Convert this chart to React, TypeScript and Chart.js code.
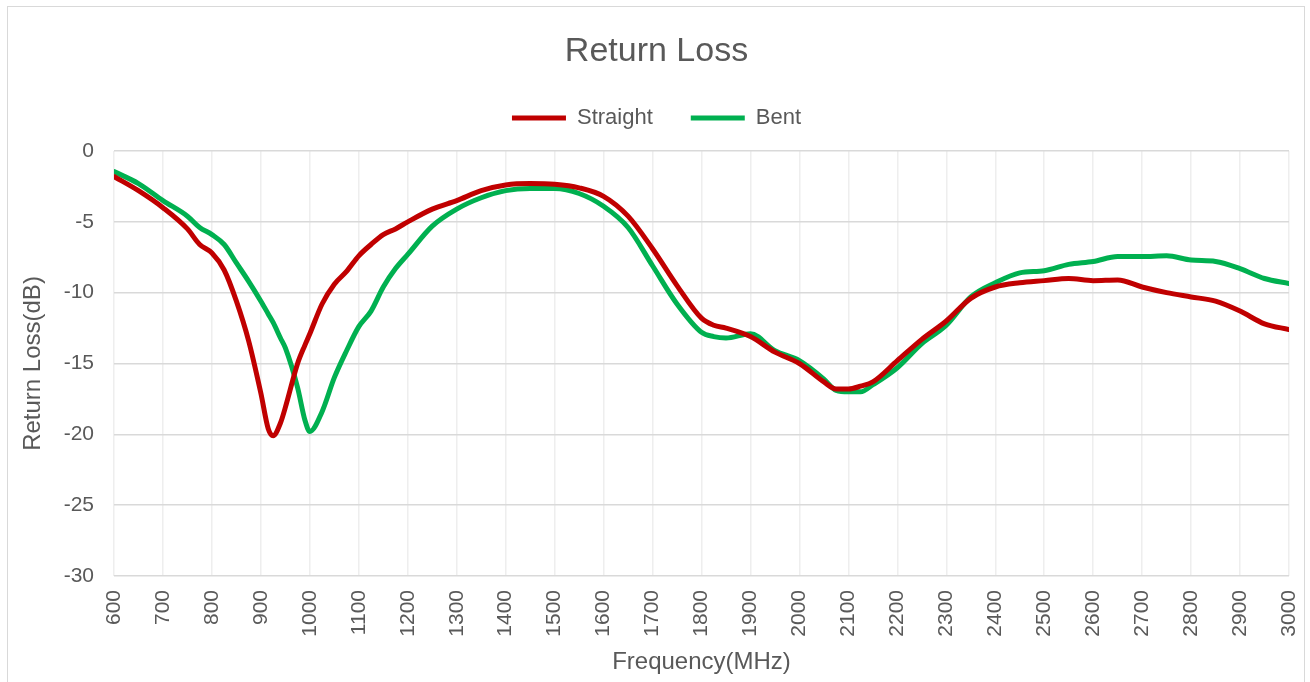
import React, { useEffect, useRef } from "react";
import { Chart, registerables } from "chart.js";

Chart.register(...registerables);

const frequencies = [600, 650, 700, 750, 775, 800, 825, 850, 875, 900, 915, 925, 940, 950, 975, 990, 1000, 1025, 1050, 1075, 1100, 1125, 1150, 1175, 1200, 1250, 1300, 1350, 1400, 1450, 1500, 1550, 1600, 1650, 1700, 1750, 1800, 1825, 1850, 1900, 1950, 2000, 2050, 2075, 2100, 2125, 2150, 2200, 2250, 2300, 2350, 2400, 2450, 2500, 2550, 2600, 2650, 2700, 2750, 2800, 2850, 2900, 2950, 3000];

const straight = [-1.8, -2.8, -4.0, -5.5, -6.6, -7.2, -8.4, -10.6, -13.4, -17.1, -19.6, -20.1, -19.2, -18.1, -15.0, -13.7, -12.9, -10.8, -9.4, -8.5, -7.4, -6.6, -5.9, -5.5, -5.0, -4.1, -3.5, -2.8, -2.4, -2.3, -2.35, -2.6, -3.2, -4.6, -6.9, -9.5, -11.8, -12.3, -12.5, -13.1, -14.2, -15.0, -16.3, -16.8, -16.8, -16.6, -16.3, -14.8, -13.3, -12.0, -10.4, -9.6, -9.3, -9.15, -9.0, -9.15, -9.1, -9.6, -10.0, -10.3, -10.6, -11.3, -12.2, -12.6];

const bent = [-1.45, -2.3, -3.5, -4.6, -5.4, -5.9, -6.6, -7.9, -9.2, -10.6, -11.5, -12.1, -13.2, -13.9, -16.7, -19.0, -19.8, -18.4, -16.0, -14.1, -12.4, -11.3, -9.6, -8.3, -7.3, -5.3, -4.1, -3.3, -2.8, -2.65, -2.65, -3.0, -3.9, -5.4, -8.1, -10.8, -12.8, -13.1, -13.2, -12.9, -14.1, -14.8, -16.1, -16.9, -17.0, -17.0, -16.5, -15.3, -13.6, -12.3, -10.3, -9.3, -8.6, -8.45, -8.0, -7.8, -7.45, -7.45, -7.4, -7.7, -7.8, -8.3, -9.0, -9.35];

const seriesNames = ["Straight", "Bent"];
const seriesColors = ["#C00000", "#00B050"];
const chartTitle = "Return Loss";
const xTitle = "Frequency(MHz)";
const yTitle = "Return Loss(dB)";

const FONT = "'Liberation Sans', Arial, sans-serif";
const TEXT = "#595959";

export default function App() {
  const ref = useRef<HTMLCanvasElement | null>(null);

  useEffect(() => {
    document.body.style.margin = "0";
    const canvas = ref.current;
    if (!canvas) return;
    const toPts = (vals: number[]) => frequencies.map((f, i) => ({ x: f, y: vals[i] }));
    const chart = new Chart(canvas, {
      type: "line",
      data: {
        datasets: [straight, bent].map((vals, i) => ({
          label: seriesNames[i],
          data: toPts(vals),
          borderColor: seriesColors[i],
          backgroundColor: seriesColors[i],
          borderWidth: 5,
          borderCapStyle: "round" as const,
          borderJoinStyle: "round" as const,
          pointRadius: 0,
          cubicInterpolationMode: "monotone" as const,
          fill: false,
        })),
      },
      options: {
        responsive: false,
        animation: false,
        devicePixelRatio: 1,
        layout: { padding: { left: 24, right: 21, top: 0, bottom: 0 } },
        plugins: {
          tooltip: { enabled: false },
          title: {
            display: true,
            text: chartTitle,
            color: TEXT,
            font: { family: FONT, size: 34, weight: "normal", lineHeight: 1 },
            padding: { top: 35, bottom: 0 },
          },
          legend: {
            display: true,
            position: "top",
            labels: {
              usePointStyle: true,
              pointStyle: "line",
              pointStyleWidth: 54,
              color: TEXT,
              padding: 38,
              font: { family: FONT, size: 22 },
            },
          },
        },
        scales: {
          x: {
            type: "linear",
            position: "bottom",
            min: 600,
            max: 3000,
            afterFit: (s: any) => {
              s.height = 106;
              s.paddingLeft = 0;
              s.paddingRight = 0;
            },
            ticks: {
              stepSize: 100,
              autoSkip: false,
              minRotation: 90,
              maxRotation: 90,
              padding: 14,
              color: TEXT,
              font: { family: FONT, size: 21 },
              callback: (v: any) => String(v),
            },
            grid: { color: "#eeeeee", lineWidth: 1.5, drawTicks: false },
            border: { display: false },
            title: {
              display: true,
              text: xTitle,
              color: TEXT,
              font: { family: FONT, size: 24 },
              padding: { top: 0, bottom: 5 },
            },
          },
          xTop: {
            type: "linear",
            axis: "x",
            position: "top",
            min: 0,
            max: 1,
            afterFit: (s: any) => {
              s.height = 12;
              s.paddingLeft = 0;
              s.paddingRight = 0;
            },
            ticks: { display: false },
            grid: { display: false, drawTicks: false },
            border: { display: false },
          },
          y: {
            type: "linear",
            min: -30,
            max: 0,
            afterFit: (s: any) => {
              s.width = 90;
            },
            ticks: {
              stepSize: 5,
              padding: 20,
              color: TEXT,
              font: { family: FONT, size: 21 },
              callback: (v: any) => String(v),
            },
            grid: { color: "#d9d9d9", lineWidth: 1.5, drawTicks: false },
            border: { display: false },
            title: {
              display: true,
              text: yTitle,
              color: TEXT,
              font: { family: FONT, size: 24, lineHeight: 0.8 },
              padding: { top: 0, bottom: 0 },
            },
          },
        },
      } as any,
    });
    return () => chart.destroy();
  }, []);

  return (
    <div style={{ position: "fixed", left: 0, top: 0, width: 1310, height: 682, background: "#fff", overflow: "hidden" }}>
      <div
        style={{
          position: "absolute",
          left: 7,
          top: 6,
          width: 1298,
          height: 700,
          border: "1.5px solid #d9d9d9",
          boxSizing: "border-box",
        }}
      />
      <canvas ref={ref} width={1310} height={682} style={{ position: "absolute", left: 0, top: 0 }} />
    </div>
  );
}
